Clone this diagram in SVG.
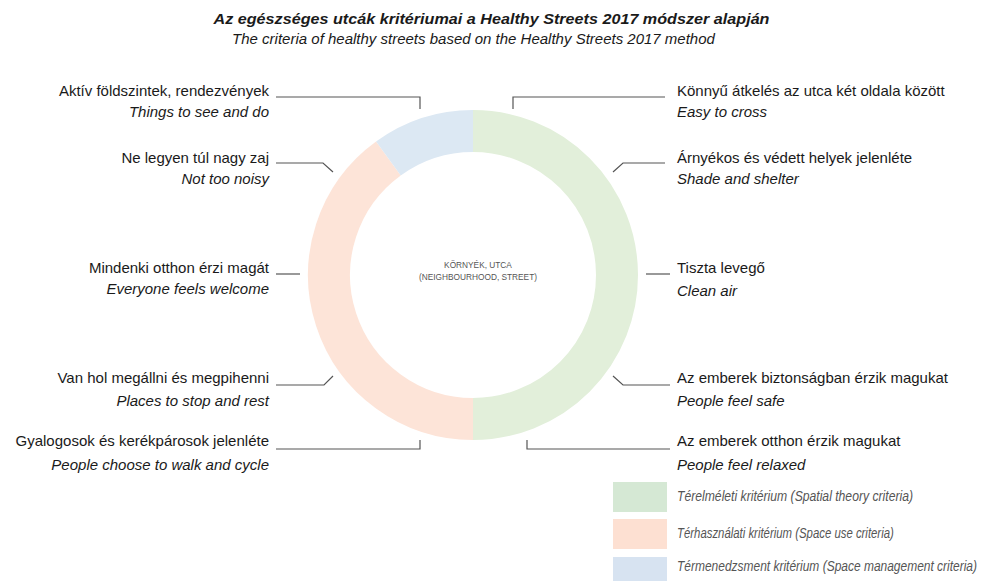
<svg xmlns="http://www.w3.org/2000/svg" width="986" height="581" viewBox="0 0 986 581">
<style>
.t{font-family:"Liberation Sans",Arial,sans-serif;font-size:15px;fill:#1a1a1a}
.i{font-style:italic}
.l{text-anchor:end}
.c{fill:none;stroke:#555;stroke-width:1.2}
.seg{fill:none;stroke-width:42}
.lg{font-family:"Liberation Sans",Arial,sans-serif;font-size:14px;font-style:italic;fill:#555}
</style>
<rect width="986" height="581" fill="#fff"/>
<g id="title">
<text class="t" x="491.5" y="24" text-anchor="middle" font-size="16.5" font-weight="bold" font-style="italic" textLength="556" lengthAdjust="spacingAndGlyphs">Az egészséges utcák kritériumai a Healthy Streets 2017 módszer alapján</text>
<text class="t i" x="473.5" y="44" text-anchor="middle">The criteria of healthy streets based on the Healthy Streets 2017 method</text>
</g>
<g id="ring">
<path class="seg" stroke="#e2efda" d="M473,131 A144,144 0 0 1 473,419"/>
<path class="seg" stroke="#fde4d8" d="M473,419 A144,144 0 0 1 388.4,158.5"/>
<path class="seg" stroke="#dce8f3" d="M388.4,158.5 A144,144 0 0 1 473,131"/>
<text x="478" y="268" text-anchor="middle" font-family="Liberation Sans, Arial, sans-serif" font-size="8.3" fill="#555">KÖRNYÉK, UTCA</text>
<text x="478" y="280" text-anchor="middle" font-family="Liberation Sans, Arial, sans-serif" font-size="8.3" fill="#555">(NEIGHBOURHOOD, STREET)</text>
</g>
<g id="connectors">
<polyline class="c" points="276,97 420,97 420,109"/>
<polyline class="c" points="513,109 513,97 665,97"/>
<polyline class="c" points="276,163 323,163 333,172"/>
<polyline class="c" points="665,163 623,163 613,172"/>
<polyline class="c" points="276,274 300,274"/>
<polyline class="c" points="646,274 670,274"/>
<polyline class="c" points="276,385 324,385 333,376"/>
<polyline class="c" points="613,376 623,385 670,385"/>
<polyline class="c" points="276,449 420,449 420,440"/>
<polyline class="c" points="527,440 527,449 670,449"/>
</g>
<g id="n1"><text class="t l" x="269" y="96">Aktív földszintek, rendezvények</text><text class="t i l" x="269" y="117">Things to see and do</text></g>
<g id="n2"><text class="t l" x="269" y="163">Ne legyen túl nagy zaj</text><text class="t i l" x="269" y="184">Not too noisy</text></g>
<g id="n3"><text class="t l" x="269" y="273">Mindenki otthon érzi magát</text><text class="t i l" x="269" y="294">Everyone feels welcome</text></g>
<g id="n4"><text class="t l" x="269" y="383">Van hol megállni és megpihenni</text><text class="t i l" x="269" y="406">Places to stop and rest</text></g>
<g id="n5"><text class="t l" x="269" y="446">Gyalogosok és kerékpárosok jelenléte</text><text class="t i l" x="269" y="470">People choose to walk and cycle</text></g>
<g id="n6"><text class="t" x="677" y="96">Könnyű átkelés az utca két oldala között</text><text class="t i" x="677" y="117">Easy to cross</text></g>
<g id="n7"><text class="t" x="677" y="163">Árnyékos és védett helyek jelenléte</text><text class="t i" x="677" y="184">Shade and shelter</text></g>
<g id="n8"><text class="t" x="677" y="273">Tiszta levegő</text><text class="t i" x="677" y="296">Clean air</text></g>
<g id="n9"><text class="t" x="677" y="383">Az emberek biztonságban érzik magukat</text><text class="t i" x="677" y="406">People feel safe</text></g>
<g id="n10"><text class="t" x="677" y="446">Az emberek otthon érzik magukat</text><text class="t i" x="677" y="470">People feel relaxed</text></g>
<g id="legend">
<rect x="613" y="482" width="54" height="30" fill="#d5e8d4"/>
<rect x="613" y="519" width="54" height="30" fill="#fde0d2"/>
<rect x="613" y="557" width="54" height="24" fill="#d7e3f1"/>
<text class="lg" transform="translate(677,501) scale(0.8,1)" x="0" y="0" textLength="295" lengthAdjust="spacingAndGlyphs">Térelméleti kritérium (Spatial theory criteria)</text>
<text class="lg" transform="translate(677,538) scale(0.8,1)" x="0" y="0" textLength="271" lengthAdjust="spacingAndGlyphs">Térhasználati kritérium (Space use criteria)</text>
<text class="lg" transform="translate(677,571) scale(0.8,1)" x="0" y="0" font-size="13.5" textLength="375" lengthAdjust="spacingAndGlyphs">Térmenedzsment kritérium (Space management criteria)</text>
</g>
</svg>
